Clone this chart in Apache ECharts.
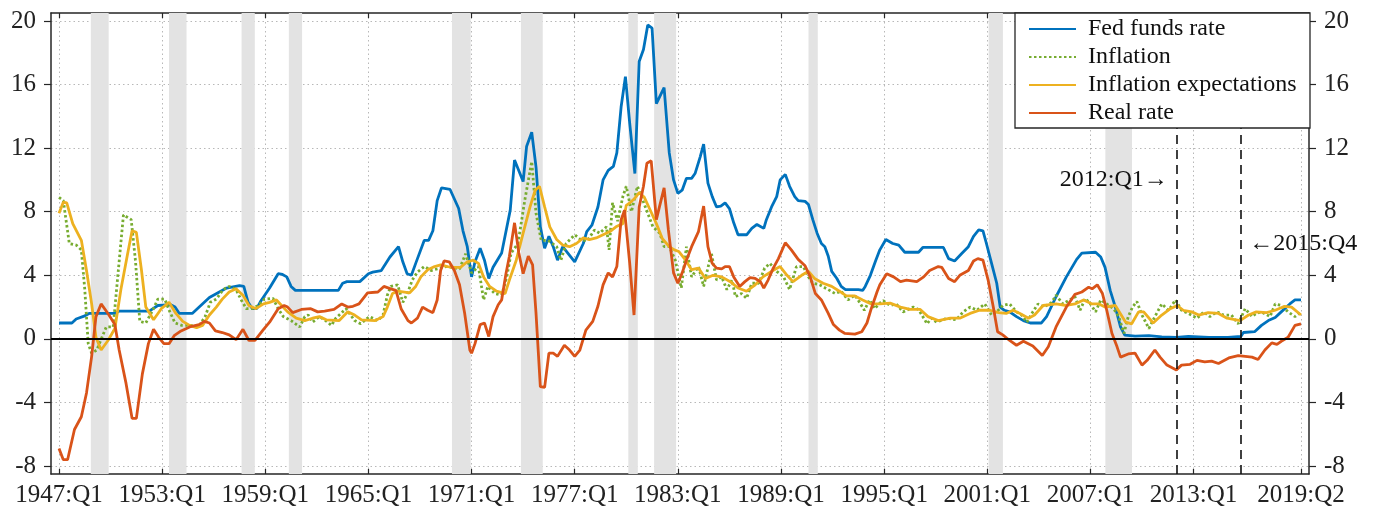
<!DOCTYPE html>
<html>
<head>
<meta charset="utf-8">
<script src="https://cdn.jsdelivr.net/npm/echarts@6/dist/echarts.min.js"></script>
<style>html,body{margin:0;padding:0;background:#fff}#c{width:1378px;height:516px}</style>
</head>
<body>
<div id="c"></div>
<script>
// ---- data (x = year, quarter fraction: .0=Q1 .25=Q2 .5=Q3 .75=Q4) ----
const xTicks = [1947, 1953, 1959, 1965, 1971, 1977, 1983, 1989, 1995, 2001, 2007, 2013, 2019.25];
const yTicks = [-8, -4, 0, 4, 8, 12, 16, 20];
const seriesNames = ['Fed funds rate', 'Inflation', 'Inflation expectations', 'Real rate'];

const recessions = [[1948.85,1949.89],[1953.40,1954.42],[1957.62,1958.39],[1960.37,1961.14],[1969.86,1970.95],[1973.87,1975.14],[1980.12,1980.67],[1981.62,1982.90],[1990.60,1991.14],[2001.08,2001.91],[2007.87,2009.42]];

const annotations = [
  { x: 2012.0, y: 10.0, text: '2012:Q1\u2192', side: 'left' },
  { x: 2015.75, y: 6.0, text: '\u21902015:Q4', side: 'right' }
];

const fedFunds = [[1947.0,1.0],[1947.75,1.0],[1948.0,1.25],[1948.5,1.45],[1948.75,1.6],[1950.25,1.6],[1950.5,1.75],[1952.25,1.75],[1952.75,2.1],[1953.5,2.15],[1953.75,2.0],[1954.0,1.6],[1954.75,1.6],[1955.25,2.1],[1955.75,2.6],[1956.25,2.9],[1956.75,3.2],[1957.5,3.35],[1957.75,3.3],[1958.0,2.3],[1958.25,1.9],[1958.5,1.9],[1958.75,2.4],[1959.25,3.2],[1959.75,4.1],[1960.0,4.05],[1960.25,3.9],[1960.5,3.3],[1960.75,3.05],[1963.25,3.05],[1963.5,3.5],[1963.75,3.6],[1964.5,3.6],[1965.0,4.1],[1965.25,4.2],[1965.75,4.3],[1966.25,5.15],[1966.75,5.8],[1967.0,4.85],[1967.25,4.1],[1967.5,4.0],[1967.75,4.75],[1968.25,6.2],[1968.5,6.2],[1968.75,6.8],[1969.0,8.7],[1969.25,9.5],[1969.75,9.4],[1970.25,8.2],[1970.5,6.8],[1970.75,5.8],[1971.0,3.9],[1971.2,4.85],[1971.5,5.7],[1971.75,4.95],[1972.0,3.8],[1972.25,4.5],[1972.75,5.4],[1973.25,8.1],[1973.5,11.25],[1974.0,9.9],[1974.2,12.1],[1974.5,13.0],[1974.75,10.8],[1975.0,7.05],[1975.25,5.7],[1975.5,6.45],[1975.75,5.8],[1976.0,4.95],[1976.3,5.8],[1977.0,4.85],[1977.5,6.0],[1977.7,6.75],[1978.0,7.15],[1978.35,8.3],[1978.65,10.0],[1978.95,10.6],[1979.25,10.85],[1979.45,11.7],[1979.7,14.6],[1979.95,16.5],[1980.2,13.55],[1980.5,10.4],[1980.75,17.45],[1981.0,18.2],[1981.25,19.75],[1981.5,19.55],[1981.75,14.8],[1982.2,15.8],[1982.5,11.7],[1982.75,10.0],[1983.0,9.15],[1983.25,9.35],[1983.5,10.1],[1983.8,10.1],[1984.0,10.4],[1984.3,11.45],[1984.5,12.25],[1984.75,9.8],[1985.0,8.95],[1985.25,8.3],[1985.5,8.35],[1985.75,8.55],[1986.0,8.2],[1986.25,7.3],[1986.5,6.55],[1987.0,6.55],[1987.3,6.95],[1987.6,7.2],[1988.0,6.95],[1988.15,7.5],[1988.45,8.3],[1988.75,8.95],[1988.95,10.0],[1989.25,10.35],[1989.5,9.6],[1989.8,8.95],[1990.0,8.7],[1990.4,8.65],[1990.6,8.45],[1990.85,7.5],[1991.1,6.65],[1991.35,6.0],[1991.55,5.8],[1991.75,5.2],[1991.95,4.25],[1992.25,3.8],[1992.5,3.3],[1992.75,3.1],[1993.5,3.1],[1993.75,3.05],[1993.9,3.3],[1994.2,4.0],[1994.5,4.9],[1994.75,5.6],[1995.1,6.25],[1995.5,6.0],[1995.85,5.9],[1996.2,5.45],[1997.0,5.45],[1997.25,5.75],[1998.45,5.75],[1998.75,5.05],[1999.1,4.9],[1999.5,5.35],[1999.9,5.8],[2000.2,6.45],[2000.5,6.85],[2000.75,6.8],[2000.95,6.0],[2001.25,4.75],[2001.55,3.5],[2001.75,2.0],[2002.0,1.8],[2002.3,1.7],[2002.7,1.4],[2003.1,1.15],[2003.5,1.0],[2004.15,1.0],[2004.45,1.4],[2005.0,2.65],[2005.6,3.9],[2006.2,5.0],[2006.5,5.4],[2007.3,5.45],[2007.6,5.15],[2007.85,4.5],[2008.15,3.05],[2008.45,2.0],[2008.75,0.75],[2009.0,0.23],[2009.6,0.17],[2010.4,0.2],[2011.15,0.12],[2012.0,0.1],[2012.7,0.15],[2013.9,0.1],[2015.0,0.1],[2015.75,0.15],[2015.9,0.4],[2016.55,0.45],[2016.95,0.85],[2017.35,1.15],[2017.75,1.35],[2018.1,1.7],[2018.6,2.2],[2018.9,2.45],[2019.25,2.45]];

const inflation = [[1947.0,8.9],[1947.25,8.7],[1947.6,6.0],[1948.0,5.9],[1948.3,5.6],[1948.5,3.1],[1948.7,-0.3],[1948.9,-0.9],[1949.2,-0.7],[1949.5,0.1],[1949.75,0.75],[1950.15,0.75],[1950.45,4.3],[1950.75,7.8],[1951.2,7.5],[1951.45,4.9],[1951.7,1.1],[1952.05,1.0],[1952.45,1.8],[1952.75,2.5],[1953.15,2.5],[1953.45,1.7],[1953.75,1.0],[1954.15,0.85],[1954.6,0.85],[1955.1,0.75],[1955.5,1.4],[1955.8,2.3],[1956.15,2.5],[1956.55,3.1],[1956.9,3.3],[1957.3,3.1],[1957.6,2.45],[1957.9,1.9],[1958.2,1.9],[1958.6,2.1],[1958.95,2.5],[1959.45,2.55],[1959.75,1.9],[1960.05,1.4],[1960.5,1.15],[1961.0,0.75],[1961.3,1.4],[1961.5,1.5],[1961.75,1.05],[1962.15,1.4],[1962.45,1.2],[1962.85,0.85],[1963.1,1.3],[1963.4,1.6],[1963.7,1.9],[1964.2,1.15],[1964.55,0.95],[1965.05,1.4],[1965.55,1.15],[1965.85,1.5],[1966.1,2.75],[1966.3,3.3],[1966.7,3.4],[1967.0,2.3],[1967.3,2.95],[1967.55,3.7],[1967.85,4.2],[1968.25,4.55],[1968.65,4.3],[1969.0,4.4],[1969.5,4.55],[1969.9,4.5],[1970.3,4.4],[1970.65,5.35],[1970.75,5.4],[1971.0,4.15],[1971.4,4.55],[1971.7,2.45],[1971.95,3.3],[1972.35,2.85],[1972.75,2.75],[1973.05,3.9],[1973.3,5.4],[1973.7,6.0],[1974.1,8.75],[1974.5,11.15],[1974.75,7.9],[1975.05,6.2],[1975.45,6.2],[1975.95,5.8],[1976.2,4.95],[1976.5,6.0],[1977.0,6.55],[1977.4,6.2],[1977.75,6.2],[1978.15,6.85],[1978.45,6.65],[1978.85,7.05],[1979.0,5.6],[1979.2,8.55],[1979.5,7.4],[1979.8,8.95],[1980.0,9.6],[1980.3,8.0],[1980.65,9.6],[1980.95,8.75],[1981.25,7.9],[1981.55,7.05],[1981.95,6.65],[1982.2,5.8],[1982.5,5.8],[1982.85,4.95],[1983.2,3.2],[1983.5,5.8],[1983.8,3.9],[1984.2,4.55],[1984.5,3.3],[1984.95,5.4],[1985.25,3.7],[1985.55,3.9],[1985.85,3.1],[1986.15,3.7],[1986.35,2.65],[1986.7,2.85],[1987.0,2.55],[1987.3,3.5],[1987.7,3.5],[1988.05,4.45],[1988.35,4.75],[1988.75,4.25],[1989.15,3.9],[1989.5,3.1],[1989.9,4.55],[1990.3,4.55],[1990.6,3.9],[1990.85,3.5],[1991.25,3.4],[1991.75,3.1],[1992.15,2.85],[1992.5,3.0],[1992.9,2.45],[1993.3,2.75],[1993.6,2.25],[1993.85,1.8],[1994.15,2.45],[1994.45,1.9],[1994.75,2.25],[1994.95,2.4],[1995.35,2.1],[1995.7,2.2],[1996.1,1.7],[1996.7,2.0],[1997.0,1.85],[1997.5,0.95],[1997.75,1.3],[1998.05,1.05],[1998.65,1.3],[1999.2,1.2],[1999.6,1.7],[2000.0,2.0],[2000.4,1.8],[2000.85,2.2],[2001.25,1.5],[2001.55,1.7],[2001.9,2.1],[2002.3,2.2],[2002.7,1.7],[2003.0,1.5],[2003.3,1.05],[2003.65,1.7],[2003.95,2.2],[2004.3,2.0],[2004.75,2.3],[2005.0,2.75],[2005.4,2.2],[2005.8,2.45],[2006.1,2.65],[2006.4,1.8],[2006.7,2.55],[2007.0,2.2],[2007.3,1.7],[2007.6,2.45],[2007.95,2.2],[2008.35,1.9],[2008.65,1.4],[2008.95,0.35],[2009.2,1.4],[2009.45,2.0],[2009.7,2.35],[2010.0,1.5],[2010.4,0.65],[2010.75,1.4],[2011.15,2.2],[2011.55,1.8],[2011.95,2.45],[2012.3,1.8],[2012.7,1.6],[2013.2,1.3],[2013.6,1.7],[2013.95,1.4],[2014.35,1.7],[2014.75,1.5],[2015.2,1.5],[2015.6,0.95],[2016.0,1.9],[2016.4,1.4],[2016.65,1.6],[2016.95,1.7],[2017.45,1.4],[2017.75,2.2],[2018.1,2.1],[2018.5,1.7],[2018.9,1.4],[2019.25,1.7]];

const expectations = [[1947.0,7.9],[1947.25,8.6],[1947.45,8.55],[1947.8,7.25],[1948.3,6.2],[1948.6,4.3],[1948.9,2.2],[1949.15,0.1],[1949.45,-0.7],[1949.85,-0.1],[1950.25,0.65],[1950.6,3.1],[1951.0,5.4],[1951.25,6.8],[1951.5,6.7],[1951.8,4.3],[1952.05,2.0],[1952.5,1.2],[1952.95,1.9],[1953.4,2.3],[1953.8,1.6],[1954.2,1.1],[1954.6,0.85],[1955.0,0.7],[1955.35,0.85],[1955.75,1.5],[1956.15,2.0],[1956.5,2.5],[1956.9,2.95],[1957.3,3.15],[1957.7,2.75],[1958.05,2.1],[1958.45,1.9],[1958.9,2.2],[1959.25,2.3],[1959.65,2.45],[1959.95,2.1],[1960.3,1.7],[1960.8,1.3],[1961.3,1.15],[1961.75,1.3],[1962.15,1.4],[1962.55,1.2],[1963.3,1.15],[1963.8,1.7],[1964.2,1.5],[1964.6,1.2],[1965.4,1.15],[1965.85,1.4],[1966.1,2.0],[1966.4,2.85],[1966.7,3.0],[1967.4,2.9],[1967.75,3.3],[1968.05,3.9],[1968.45,4.35],[1968.85,4.55],[1969.2,4.65],[1969.6,4.55],[1970.0,4.5],[1970.35,4.5],[1970.75,4.85],[1971.1,4.95],[1971.4,4.75],[1971.7,3.9],[1972.05,3.3],[1972.45,3.0],[1972.95,2.85],[1973.2,3.7],[1973.6,4.95],[1974.0,6.65],[1974.4,8.3],[1974.7,9.35],[1974.95,9.6],[1975.25,8.3],[1975.55,7.05],[1975.95,6.25],[1976.3,5.9],[1976.7,5.8],[1977.1,6.0],[1977.5,6.35],[1977.85,6.25],[1978.25,6.35],[1978.65,6.55],[1979.05,6.75],[1979.4,7.05],[1979.8,7.25],[1980.0,8.4],[1980.2,8.55],[1980.5,8.85],[1980.75,9.2],[1981.05,8.9],[1981.35,8.2],[1981.75,7.25],[1982.1,6.3],[1982.5,5.8],[1982.8,5.6],[1983.05,5.5],[1983.45,4.95],[1983.8,4.35],[1984.2,4.45],[1984.6,3.8],[1985.05,4.0],[1985.55,3.9],[1986.05,3.6],[1986.5,3.2],[1987.0,3.0],[1987.5,3.4],[1987.95,3.9],[1988.45,4.25],[1988.95,4.55],[1989.35,4.0],[1989.7,3.6],[1990.2,4.0],[1990.6,4.25],[1990.95,3.8],[1991.45,3.5],[1991.95,3.3],[1992.4,3.0],[1992.8,2.7],[1993.3,2.7],[1993.75,2.45],[1994.25,2.2],[1994.75,2.2],[1995.35,2.25],[1995.95,2.0],[1996.5,1.85],[1997.1,1.85],[1997.55,1.4],[1998.15,1.15],[1998.85,1.3],[1999.4,1.3],[2000.0,1.6],[2000.55,1.8],[2001.15,1.8],[2001.65,1.65],[2002.1,1.6],[2002.5,1.8],[2002.9,1.6],[2003.4,1.3],[2003.75,1.5],[2004.25,2.1],[2005.0,2.2],[2005.6,2.1],[2006.1,2.2],[2006.6,2.45],[2007.1,2.2],[2007.5,2.2],[2007.85,2.0],[2008.45,2.1],[2009.05,1.05],[2009.4,0.95],[2009.8,1.7],[2010.1,1.7],[2010.65,1.0],[2011.15,1.5],[2011.65,1.9],[2012.05,2.1],[2012.4,1.8],[2012.9,1.7],[2013.3,1.5],[2013.85,1.65],[2014.45,1.6],[2014.95,1.3],[2015.7,1.15],[2016.2,1.5],[2016.65,1.7],[2017.25,1.65],[2017.75,1.8],[2018.3,2.05],[2018.7,2.0],[2019.25,1.5]];

const realRate = [[1947.0,-6.9],[1947.25,-7.6],[1947.5,-7.6],[1947.9,-5.7],[1948.3,-4.9],[1948.6,-3.4],[1948.9,-1.1],[1949.15,1.4],[1949.45,2.2],[1949.85,1.6],[1950.25,0.9],[1950.5,-0.7],[1950.9,-2.8],[1951.25,-5.0],[1951.5,-5.0],[1951.85,-2.2],[1952.2,-0.3],[1952.5,0.6],[1952.8,0.1],[1953.1,-0.3],[1953.4,-0.3],[1953.7,0.2],[1954.1,0.5],[1954.6,0.75],[1955.15,0.9],[1955.45,1.1],[1955.75,1.0],[1956.1,0.5],[1956.5,0.4],[1956.9,0.25],[1957.3,-0.05],[1957.7,0.6],[1958.05,-0.1],[1958.4,-0.1],[1958.9,0.6],[1959.25,1.05],[1959.75,1.9],[1960.1,2.1],[1960.3,2.0],[1960.6,1.65],[1961.1,1.85],[1961.65,1.9],[1962.05,1.7],[1962.45,1.75],[1963.0,1.85],[1963.45,2.2],[1963.8,2.0],[1964.1,2.05],[1964.45,2.2],[1964.95,2.9],[1965.55,2.95],[1965.9,3.3],[1966.3,3.15],[1966.6,3.05],[1966.9,1.9],[1967.3,1.15],[1967.5,1.0],[1967.85,1.3],[1968.15,2.0],[1968.45,1.8],[1968.75,1.65],[1969.0,2.45],[1969.2,4.3],[1969.4,4.9],[1969.7,4.85],[1970.0,4.3],[1970.3,3.4],[1970.6,1.6],[1970.9,-0.7],[1971.0,-0.9],[1971.2,-0.3],[1971.5,0.9],[1971.75,1.0],[1972.0,0.15],[1972.25,1.4],[1972.55,2.15],[1972.75,2.45],[1973.0,4.1],[1973.2,5.2],[1973.5,7.3],[1973.75,5.4],[1974.0,4.1],[1974.3,5.2],[1974.55,4.65],[1974.75,1.6],[1975.0,-3.0],[1975.25,-3.05],[1975.5,-0.9],[1975.75,-0.9],[1976.0,-1.1],[1976.4,-0.4],[1976.7,-0.7],[1977.0,-1.1],[1977.3,-0.7],[1977.65,0.55],[1978.05,1.1],[1978.35,2.05],[1978.65,3.4],[1978.95,4.15],[1979.2,3.9],[1979.45,4.55],[1979.7,7.5],[1979.9,8.1],[1980.2,4.75],[1980.45,1.5],[1980.75,8.3],[1981.0,9.6],[1981.2,11.05],[1981.45,11.2],[1981.75,7.5],[1981.95,8.4],[1982.2,9.5],[1982.45,6.85],[1982.75,4.15],[1983.0,3.5],[1983.25,4.15],[1983.5,4.95],[1983.8,5.8],[1984.2,6.75],[1984.5,8.35],[1984.75,5.8],[1985.0,4.75],[1985.25,4.45],[1985.55,4.4],[1985.75,4.55],[1986.0,4.55],[1986.25,3.9],[1986.6,3.3],[1986.9,3.6],[1987.2,3.85],[1987.5,3.8],[1987.8,3.6],[1988.0,3.2],[1988.25,3.7],[1988.55,4.45],[1988.85,5.05],[1989.25,6.05],[1989.6,5.6],[1990.0,5.0],[1990.4,4.6],[1990.7,3.9],[1991.0,2.85],[1991.35,2.45],[1991.75,1.6],[1992.05,0.9],[1992.4,0.55],[1992.7,0.35],[1993.3,0.3],[1993.7,0.45],[1994.0,1.0],[1994.25,1.9],[1994.6,3.0],[1994.75,3.4],[1995.15,4.1],[1995.55,3.9],[1995.95,3.6],[1996.3,3.7],[1996.9,3.6],[1997.3,3.9],[1997.65,4.3],[1998.15,4.55],[1998.35,4.5],[1998.75,3.8],[1999.1,3.6],[1999.4,4.0],[1999.9,4.3],[2000.2,4.9],[2000.45,5.05],[2000.75,4.95],[2001.05,3.7],[2001.35,2.0],[2001.6,0.45],[2001.9,0.25],[2002.3,-0.1],[2002.7,-0.4],[2003.1,-0.15],[2003.65,-0.45],[2004.2,-1.05],[2004.55,-0.5],[2005.0,0.75],[2005.6,2.0],[2006.1,2.8],[2006.5,2.95],[2006.9,3.25],[2007.1,3.15],[2007.4,3.4],[2007.7,2.85],[2007.95,1.8],[2008.25,0.35],[2008.55,-0.5],[2008.75,-1.15],[2009.2,-0.95],[2009.6,-0.9],[2010.0,-1.65],[2010.3,-1.35],[2010.75,-0.7],[2011.05,-1.15],[2011.45,-1.65],[2012.0,-1.95],[2012.3,-1.65],[2012.8,-1.6],[2013.2,-1.35],[2013.65,-1.45],[2014.05,-1.4],[2014.45,-1.55],[2015.05,-1.2],[2015.6,-1.05],[2016.0,-1.1],[2016.4,-1.15],[2016.75,-1.3],[2017.15,-0.7],[2017.55,-0.25],[2017.85,-0.35],[2018.1,-0.15],[2018.5,0.1],[2018.9,0.85],[2019.25,0.95]];

// ---- chart ----
const FONT = 'Liberation Serif';
const AX = '#262626';
const X_MIN = 1947 - 8 / 17.19, X_MAX = 2019.25 + 8 / 17.19;
const Y_MIN = -8.5, Y_MAX = 20.5;

function qLabel(v) {
  const y = Math.floor(v + 1e-6);
  const q = Math.round((v - y) * 4) + 1;
  return y + ':Q' + q;
}

const gridSplit = { show: true, lineStyle: { color: '#b8b8b8', width: 1, type: [1.5, 3] } };

const xBase = {
  type: 'value', min: X_MIN, max: X_MAX,
  axisLine: { show: true, onZero: false, lineStyle: { color: AX, width: 1.5 } },
  axisTick: { show: true, inside: true, length: 5, customValues: xTicks, lineStyle: { color: AX, width: 1.2 } }
};
const yBase = {
  type: 'value', min: Y_MIN, max: Y_MAX,
  axisLine: { show: true, onZero: false, lineStyle: { color: AX, width: 1.5 } },
  axisTick: { show: true, inside: false, length: 7, customValues: yTicks, lineStyle: { color: AX, width: 1.2 } }
};

const chart = echarts.init(document.getElementById('c'), null, { renderer: 'canvas' });

const lineSeries = (name, data, color, type) => ({
  name, type: 'line', data, symbol: 'none', showSymbol: false, smooth: false,
  xAxisIndex: 0, yAxisIndex: 0, z: 3,
  lineStyle: { color, width: 2.8, type: type || 'solid' },
  itemStyle: { color }
});

chart.setOption({
  animation: false,
  backgroundColor: '#fff',
  grid: { left: 51, right: 69, top: 13, bottom: 42, containLabel: false },
  xAxis: [
    Object.assign({}, xBase, {
      position: 'bottom',
      axisLabel: { show: true, customValues: xTicks, formatter: qLabel, fontFamily: FONT, fontSize: 25, color: '#222', margin: 9 },
      splitLine: gridSplit
    }),
    Object.assign({}, xBase, {
      position: 'top', axisLabel: { show: false }, splitLine: { show: false }
    })
  ],
  yAxis: [
    Object.assign({}, yBase, {
      position: 'left',
      axisLabel: { show: true, customValues: yTicks, fontFamily: FONT, fontSize: 25, color: '#222', margin: 15 },
      splitLine: gridSplit
    }),
    Object.assign({}, yBase, {
      position: 'right',
      axisLabel: { show: true, customValues: yTicks, fontFamily: FONT, fontSize: 25, color: '#222', margin: 15 },
      splitLine: { show: false }
    })
  ],
  legend: {
    orient: 'vertical', left: 1015, top: 13, z: 20,
    padding: [4, 7, 3, 13], itemWidth: 47, itemHeight: 14, itemGap: 4,
    backgroundColor: '#fff', borderColor: AX, borderWidth: 1.3, borderRadius: 0,
    itemStyle: { opacity: 0 },
    textStyle: { fontFamily: FONT, fontSize: 24, color: '#111', lineHeight: 22, width: 215, padding: [0, 0, 0, 7] },
    data: seriesNames
  },
  series: [
    {
      name: 'recessions', type: 'line', data: [], z: 1, silent: true,
      markArea: {
        silent: true,
        itemStyle: { color: '#e3e3e3' },
        data: recessions.map(r => [{ xAxis: r[0] }, { xAxis: r[1] }])
      }
    },
    lineSeries(seriesNames[0], fedFunds, '#0072BD'),
    lineSeries(seriesNames[1], inflation, '#77AC30', [2.5, 2.5]),
    lineSeries(seriesNames[2], expectations, '#EDB120'),
    lineSeries(seriesNames[3], realRate, '#D95319'),
    {
      name: 'refs', type: 'line', data: [], z: 3, silent: true,
      markLine: {
        silent: true, symbol: ['none', 'none'], label: { show: false },
        data: [
          { yAxis: 0, lineStyle: { color: '#000', width: 1.8, type: 'solid' } }
        ].concat(annotations.map(a => ({ xAxis: a.x, lineStyle: { color: '#111', width: 1.6, type: [9, 6] } })))
      },
      markPoint: {
        silent: true,
        data: annotations.map(a => ({
          coord: [a.x, a.y], symbol: 'circle', symbolSize: 1,
          itemStyle: { color: 'rgba(0,0,0,0)' },
          label: { show: true, position: a.side, distance: 8, formatter: a.text, fontFamily: FONT, fontSize: 24, color: '#111' }
        }))
      }
    }
  ]
});
</script>
</body>
</html>
